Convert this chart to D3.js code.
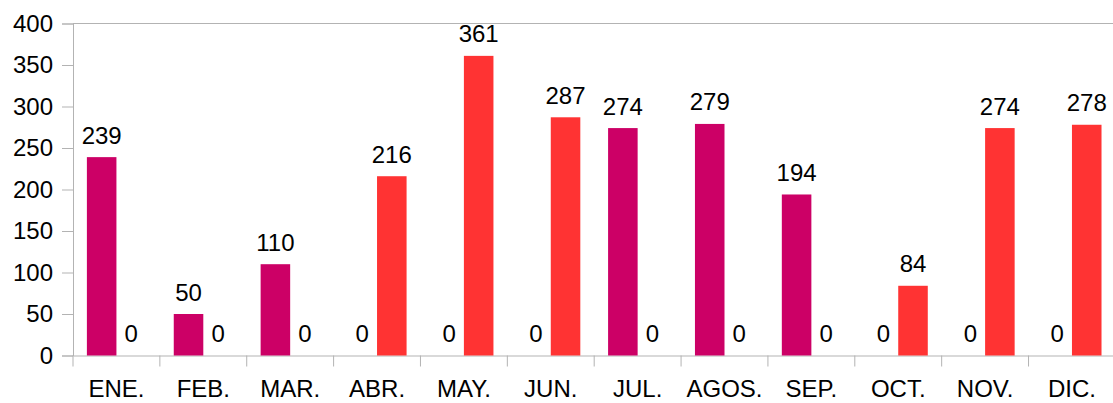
<!DOCTYPE html>
<html>
<head>
<meta charset="utf-8">
<script src="https://cdn.jsdelivr.net/npm/d3@7"></script>
<style>
  body { margin: 0; background: #fff; }
  text { font-family: "Liberation Sans", Arial, sans-serif; fill: #000; }
</style>
</head>
<body>
<div id="chart"></div>
<script>
var months = ["ENE.", "FEB.", "MAR.", "ABR.", "MAY.", "JUN.", "JUL.", "AGOS.", "SEP.", "OCT.", "NOV.", "DIC."];
var seriesA = [239, 50, 110, 0, 0, 0, 274, 279, 194, 0, 0, 0];
var seriesB = [0, 0, 0, 216, 361, 287, 0, 0, 0, 84, 274, 278];
var yTicks = [0, 50, 100, 150, 200, 250, 300, 350, 400];
var seriesNames = ["a", "b"];
var colors = { a: "#cc0066", b: "#ff3333" };

// set the dimensions and margins of the graph
var margin = { top: 23.5, right: -2.4, bottom: 47.5, left: 73 },
    width = 1113 - margin.left - margin.right,
    height = 403 - margin.top - margin.bottom;

var data = months.map(function (m, i) {
    return { month: m, a: seriesA[i], b: seriesB[i] };
});

var svg = d3.select("#chart")
    .append("svg")
    .attr("width", 1113)
    .attr("height", 403)
    .append("g")
    .attr("transform", "translate(" + margin.left + "," + margin.top + ")");

var x0 = d3.scaleBand().domain(months).range([0, width]);
var x1 = d3.scaleBand().domain(seriesNames).range([0, x0.bandwidth()])
    .paddingInner(0).paddingOuter(0.47);
var y = d3.scaleLinear().domain([0, 400]).range([height, 0]);

// top frame line
svg.append("line")
    .attr("x1", 0).attr("x2", width)
    .attr("y1", y(400)).attr("y2", y(400))
    .attr("stroke", "#b3b3b3").attr("stroke-width", 1);

// Y axis
var yAxis = svg.append("g")
    .call(d3.axisLeft(y).tickValues(yTicks).tickSize(11).tickPadding(9).tickFormat(d3.format("d")));
yAxis.select(".domain").attr("stroke", "#b3b3b3");
yAxis.selectAll(".tick line").attr("stroke", "#b3b3b3");
yAxis.selectAll(".tick text")
    .attr("font-size", 24)
    .attr("font-family", "Liberation Sans, Arial, sans-serif")
    .attr("fill", "#000");

// X axis
var xAxis = svg.append("g")
    .attr("transform", "translate(0," + height + ")")
    .call(d3.axisBottom(x0).tickSize(0).tickPadding(0));
xAxis.select(".domain").attr("stroke", "#b3b3b3");
xAxis.selectAll(".tick text")
    .attr("font-size", 24)
    .attr("font-family", "Liberation Sans, Arial, sans-serif")
    .attr("fill", "#000")
    .attr("dy", null)
    .attr("y", 41.5);

// category separators
svg.selectAll(".sep").data(months.concat(["end"]))
    .enter().append("line")
    .attr("x1", function (d, i) { return i * x0.step(); })
    .attr("x2", function (d, i) { return i * x0.step(); })
    .attr("y1", height).attr("y2", height + 11)
    .attr("stroke", "#b3b3b3");

// bars
var groups = svg.selectAll(".grp").data(data)
    .enter().append("g")
    .attr("transform", function (d) { return "translate(" + x0(d.month) + ",0)"; });

groups.selectAll("rect")
    .data(function (d) { return seriesNames.map(function (k) { return { key: k, value: d[k] }; }); })
    .enter().append("rect")
    .attr("x", function (d) { return x1(d.key); })
    .attr("width", x1.bandwidth())
    .attr("y", function (d) { return y(d.value); })
    .attr("height", function (d) { return height - y(d.value); })
    .attr("fill", function (d) { return colors[d.key]; });

// values
groups.selectAll(".val")
    .data(function (d) { return seriesNames.map(function (k) { return { key: k, value: d[k] }; }); })
    .enter().append("text")
    .attr("x", function (d) { return x1(d.key) + x1.bandwidth() / 2; })
    .attr("y", function (d) { return y(d.value) - 13.5; })
    .attr("text-anchor", "middle")
    .attr("font-size", 24)
    .text(function (d) { return d.value; });
</script>
</body>
</html>
